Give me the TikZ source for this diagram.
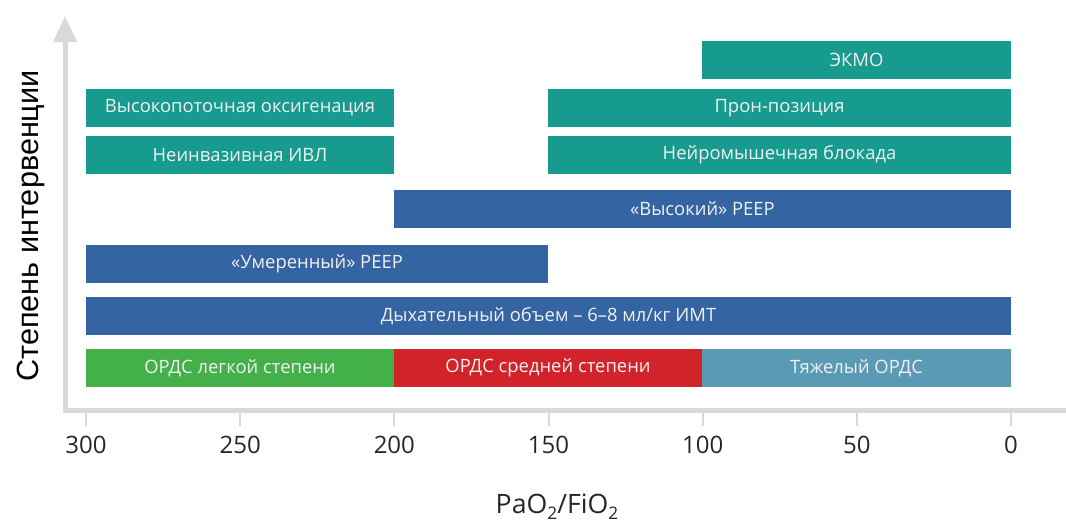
\documentclass[tikz,border=0pt]{standalone}
\usepackage{fontspec}
\setmainfont{Open Sans}
\newfontfamily\arialfont{Liberation Sans}
\usetikzlibrary{arrows.meta}
\definecolor{barteal}{RGB}{23,155,143}
\definecolor{barblue}{RGB}{52,100,162}
\definecolor{bargreen}{RGB}{67,176,74}
\definecolor{barred}{RGB}{210,35,42}
\definecolor{barsteel}{RGB}{90,154,180}
\definecolor{axisgray}{RGB}{217,217,217}
\definecolor{ticktext}{RGB}{38,38,38}
\newcommand\pxl[1]{#1*0.75pt}

\begin{document}
\begin{tikzpicture}[
  x=0.75pt, y=-0.75pt,
  barbox/.style={rectangle, inner sep=0pt, minimum height=\pxl{38},
                 text=white!94!black, font=\fontsize{13.8}{16}\selectfont},
  tealbar/.style={barbox, fill=barteal},
  bluebar/.style={barbox, fill=barblue},
  axisline/.style={draw=axisgray, line width=3.75pt, line join=miter},
  tickline/.style={draw=axisgray, line width=1.5pt},
  ticklabel/.style={font=\fontsize{18}{20}\selectfont, text=ticktext}
]
\useasboundingbox (0,0) rectangle (1066,522);

%% Axes
\coordinate (origin) at (65,410.5);
\coordinate (yend) at (65,16);
\coordinate (xend) at (1066,410.5);
\draw[axisline, -{Triangle[width=17pt,length=19.5pt]}] (xend) -- (origin) -- (yend);

%% Ticks
\foreach \v in {300,250,...,0} {
  \pgfmathsetmacro\xp{1011-\v*3.08333}
  \coordinate (t\v) at (\xp,413);
  \draw[tickline] (t\v) -- ++(0,13);
  \node[ticklabel] (l\v) at (\xp,445) {\v};
}

%% Interventions
\node[tealbar, minimum width=\pxl{309}] (ecmo)  at (856.5,60) {ЭКМО};
\node[tealbar, minimum width=\pxl{308}] (hfo)   at (240,108)  {Высокопоточная оксигенация};
\node[tealbar, minimum width=\pxl{463}] (prone) at (779.5,108) {Прон-позиция};
\node[tealbar, minimum width=\pxl{308}] (niv)   at (240,155)  {Неинвазивная ИВЛ};
\node[tealbar, minimum width=\pxl{463}] (nmb)   at (779.5,155) {Нейромышечная блокада};
\node[bluebar, minimum width=\pxl{617}] (hpeep) at (702.5,209) {«Высокий» PEEP};
\node[bluebar, minimum width=\pxl{462}] (mpeep) at (317,264)  {«Умеренный» PEEP};
\node[bluebar, minimum width=\pxl{925}] (vt)    at (548.5,316) {Дыхательный объем – 6–8 мл/кг ИМТ};

%% ARDS severity
\node[barbox, fill=bargreen, minimum width=\pxl{308}] (mild)     at (240,368)   {ОРДС легкой степени};
\node[barbox, fill=barred,   minimum width=\pxl{308}] (moderate) at (548,368)   {ОРДС средней степени};
\node[barbox, fill=barsteel, minimum width=\pxl{309}] (severe)   at (856.5,368) {Тяжелый ОРДС};

%% Axis titles
\node[rotate=90, font=\arialfont\fontsize{23}{27}\selectfont, text=black] (ytitle) at (31,226) {Степень интервенции};
\node[font=\fontsize{20}{24}\selectfont, text=ticktext, anchor=base] (xtitle) at (557,513)
  {PaO\raisebox{-0.45ex}{\fontsize{13}{14}\selectfont 2}/FiO\raisebox{-0.45ex}{\fontsize{13}{14}\selectfont 2}};

\end{tikzpicture}
\end{document}
